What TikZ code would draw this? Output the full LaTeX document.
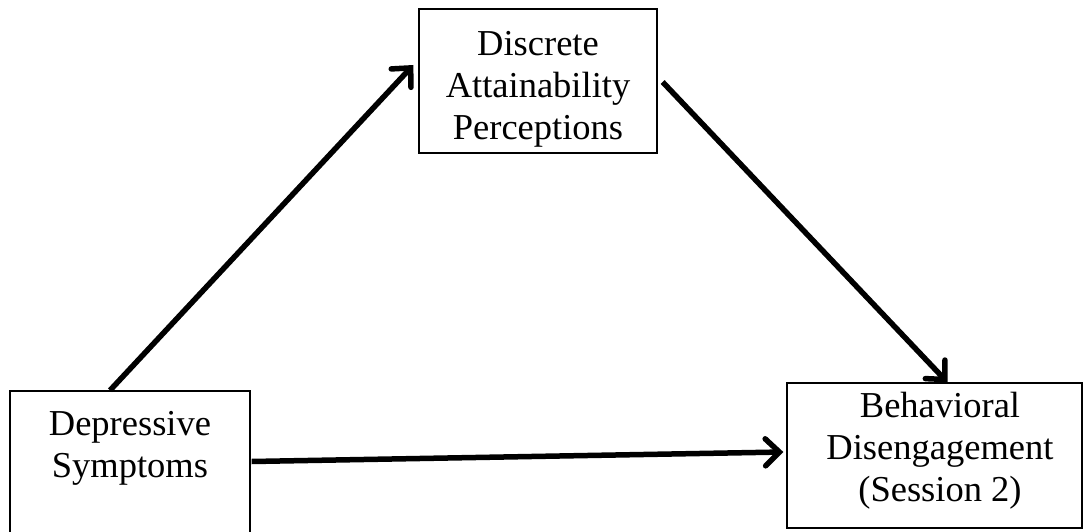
\documentclass[tikz,border=0pt]{standalone}
\usepackage{fontspec}
\setmainfont{Liberation Serif}
\usetikzlibrary{positioning}
\usetikzlibrary{calc}
\usetikzlibrary{arrows.meta}

\begin{document}
\begin{tikzpicture}[x=1pt, y=1pt,
    box/.style   = {draw, line width=1.3pt, inner sep=0pt},
    label/.style = {inner sep=0pt, align=center, font=\fontsize{36.5}{42}\selectfont},
    path/.style  = {line width=5.5pt, -{Straight Barb[length=14pt, width=27pt, line cap=round]}}]
    \useasboundingbox (0,0) rectangle (1084,-532);
    % boxes
    \node[box, minimum width=238, minimum height=144] (dap)  at (538,-81)      {};
    \node[box, minimum width=240, minimum height=169] (dep)  at (130,-475.5)   {};
    \node[box, minimum width=295, minimum height=145] (bdis) at (934.5,-455.5) {};
    % texts
    \node[label, anchor=north] (daptxt)  at (538,-31)  {Discrete\\Attainability\\Perceptions};
    \node[label, anchor=north] (deptxt)  at (130,-411) {Depressive\\Symptoms};
    \node[label, anchor=north] (bdistxt) at (940,-392) {Behavioral\\Disengagement\\(Session 2)};
    % paths
    \draw[path] ($(dep.north)+(-20,0)$) -- ($(dap.west)+(-5,16)$);
    \draw[path] ($(dap.east)+(5,-1)$)   -- ($(bdis.north)+(13,0)$);
    \draw[path] ($(dep.east)+(1,14)$)   -- ($(bdis.west)+(-3,3.5)$);
\end{tikzpicture}
\end{document}
